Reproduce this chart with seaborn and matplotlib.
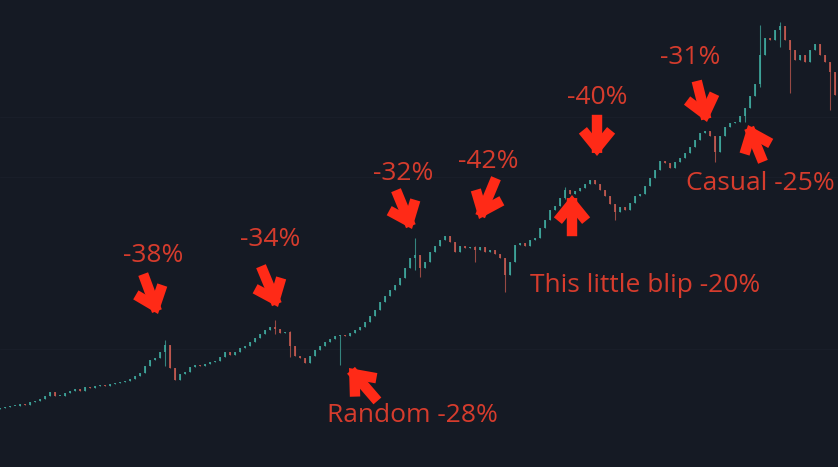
import numpy as np
import matplotlib
matplotlib.use('Agg')
import matplotlib.pyplot as plt
import seaborn as sns

# closing prices, one candle every 5 px of chart width
closes = [59, 60, 61, 61, 63, 62, 65, 66, 68, 71, 75, 71, 71, 74, 76, 78, 76, 80, 79, 81,
          82, 81, 83, 84, 85, 86, 88, 91, 94, 101, 107, 109, 115, 122, 99, 87, 93, 95, 100, 102,
          101, 103, 105, 106, 110, 115, 112, 115, 119, 121, 125, 129, 133, 137, 140, 138, 134, 135, 121, 111,
          109, 104, 111, 117, 121, 125, 128, 131, 132, 131, 134, 137, 140, 145, 151, 157, 165, 171, 177, 182,
          189, 199, 209, 212, 199, 205, 215, 221, 227, 231, 225, 215, 221, 219, 220, 217, 220, 215, 217, 213,
          209, 192, 205, 222, 224, 221, 227, 229, 239, 247, 257, 261, 269, 277, 273, 276, 279, 283, 287, 283,
          277, 271, 263, 255, 260, 257, 264, 271, 273, 281, 289, 297, 306, 304, 299, 305, 309, 314, 320, 327,
          334, 336, 331, 315, 331, 340, 344, 345, 351, 359, 371, 383, 412, 429, 427, 437, 441, 427, 417, 407,
          412, 405, 417, 423, 412, 405, 395, 372]

# extra wicks sticking out of the bodies
wick_idx = [33, 55, 58, 68, 83, 84, 95, 101, 113, 123, 143, 149, 152, 156, 158, 166]
wick_hi = [127, 147, 136, 131, 229, 212, 221, 209, 280, 255, 331, 359, 442, 445, 412, 405]
wick_lo = [101, 133, 110, 102, 197, 190, 205, 175, 268, 247, 305, 345, 380, 420, 374, 357]

# annotations: text, text centre, arrow tail, arrow tip
labels = ['-38%', '-34%', 'Random -28%', '-32%', '-42%', '-40%',
          'This little blip -20%', '-31%', 'Casual -25%']
label_xy = [(153, 212), (270, 227), (412, 51), (403, 294), (488, 305), (597, 370),
            (645, 182), (690, 409), (760, 284)]
arrow_tail = [(145, 188), (263, 196), (374, 70), (398, 272), (494, 284), (597, 347),
              (572, 236), (698, 381), (761, 310)]
arrow_tip = [(158, 153), (278, 160), (349, 99), (412, 238), (479, 248), (597, 311),
             (572, 272), (707, 345), (748, 342)]

step = 5
bg = '#151a24'
up_col = '#3fa89d'
down_col = '#c45a50'
text_col = '#d63c2d'
arrow_col = '#ff2a17'

sns.set_theme(style='dark', rc={'axes.facecolor': bg, 'figure.facecolor': bg})

fig = plt.figure(figsize=(8.38, 4.67), dpi=100)
ax = fig.add_axes([0, 0, 1, 1])
ax.set_facecolor(bg)

closes = np.array(closes, dtype=float)
opens = np.r_[closes[0] - 1, closes[:-1]]
x = np.arange(len(closes)) * step
highs = np.maximum(opens, closes)
lows = np.minimum(opens, closes)
for i, h, l in zip(wick_idx, wick_hi, wick_lo):
    highs[i] = max(highs[i], h)
    lows[i] = min(lows[i], l)

colors = np.where(closes >= opens, up_col, down_col)
ax.vlines(x, lows, highs, colors=colors, lw=0.8, alpha=0.75)
body = np.maximum(np.abs(closes - opens), 0.8)
ax.bar(x, body, bottom=np.minimum(opens, closes), width=step * 0.5,
       color=colors, edgecolor='none', alpha=0.85)

for yy in [118, 290, 350]:
    ax.axhline(yy, color='#191e29', lw=0.8, zorder=0)

for lab, (tx, ty), tail, tip in zip(labels, label_xy, arrow_tail, arrow_tip):
    ax.text(tx, ty, lab, color=text_col, fontsize=19, ha='center', va='center',
            family='Open Sans')
    ax.annotate('', xy=tip, xytext=tail,
                arrowprops=dict(arrowstyle='->,head_length=0.8,head_width=0.65',
                                lw=7.5, color=arrow_col, capstyle='projecting',
                                joinstyle='miter', shrinkA=0, shrinkB=0))

ax.set_xlim(0, 838)
ax.set_ylim(0, 467)
ax.set_axis_off()

fig.savefig('out.png', dpi=100, facecolor=bg)
